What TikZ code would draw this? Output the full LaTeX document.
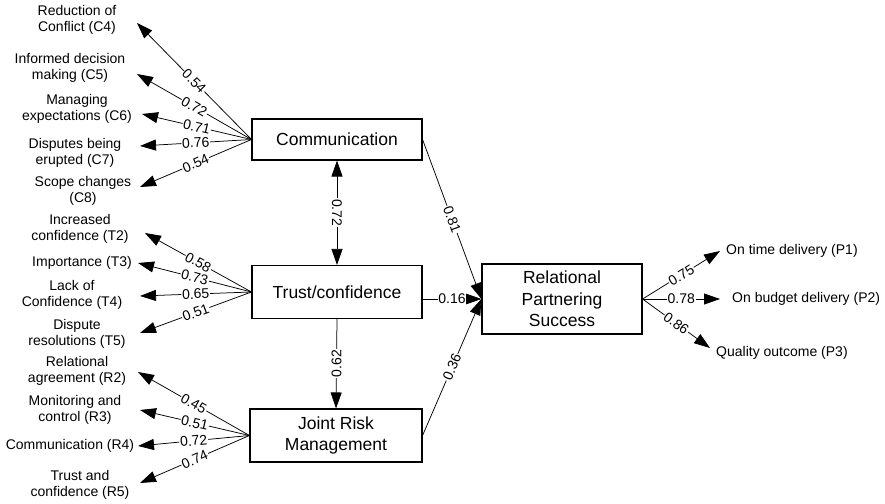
\documentclass[tikz,border=0pt]{standalone}
\usepackage{fontspec}
\setmainfont{Liberation Sans}
\usetikzlibrary{arrows.meta}

\tikzset{
  factorbox/.style={draw, line width=1.1pt, align=center, inner sep=2pt,
    font=\fontsize{17.5}{21.5}\selectfont},
  indicator/.style={align=center, inner sep=2pt, font=\fontsize{14}{16.5}\selectfont},
  weight/.style={fill=white, inner sep=0.8pt, font=\fontsize{14}{16}\selectfont},
  loading/.style={line width=0.75pt, -{Triangle[length=16pt,width=11pt]}},
  biloading/.style={line width=0.75pt, {Triangle[length=16pt,width=11pt]}-{Triangle[length=16pt,width=11pt]}},
}

\begin{document}
\begin{tikzpicture}[x=1pt, y=-1pt]
    % Canvas of the reference
    \useasboundingbox (0,0) rectangle (885,503);

    % Latent constructs
    \node[factorbox, minimum width=170pt, minimum height=41pt] (comm) at (337,139.5) {Communication};
    \node[factorbox, minimum width=170pt, minimum height=53pt] (trust) at (337,292) {Trust/confidence};
    \node[factorbox, minimum width=172pt, minimum height=53pt] (jrm) at (336,435.5) {Joint Risk\\Management};
    \node[factorbox, minimum width=160pt, minimum height=70pt] (rps) at (562,299) {Relational\\Partnering\\Success};

    % Communication indicators
    \node[indicator] (c4) at (77,20) {Reduction of\\Conflict (C4)};
    \node[indicator] (c5) at (70,68) {Informed decision\\making (C5)};
    \node[indicator] (c6) at (77,109) {Managing\\expectations (C6)};
    \node[indicator] (c7) at (75,153) {Disputes being\\erupted (C7)};
    \node[indicator] (c8) at (83,191) {Scope changes\\(C8)};
    \coordinate (c4tip) at (137,23);
    \coordinate (c5tip) at (137,74);
    \coordinate (c6tip) at (142,114);
    \coordinate (c7tip) at (140,146);
    \coordinate (c8tip) at (140,187);
    \draw[loading] (comm.west) -- node[weight, sloped] {0.54} (c4tip);
    \draw[loading] (comm.west) -- node[weight, sloped] {0.72} (c5tip);
    \draw[loading] (comm.west) -- node[weight, sloped] {0.71} (c6tip);
    \draw[loading] (comm.west) -- node[weight, sloped] {0.76} (c7tip);
    \draw[loading] (comm.west) -- node[weight, sloped] {0.54} (c8tip);

    % Trust/confidence indicators
    \node[indicator] (t2) at (80,229) {Increased\\confidence (T2)};
    \node[indicator] (t3) at (82,263) {Importance (T3)};
    \node[indicator] (t4) at (72,295) {Lack of\\Confidence (T4)};
    \node[indicator] (t5) at (77,334) {Dispute\\resolutions (T5)};
    \coordinate (t2tip) at (145,233);
    \coordinate (t3tip) at (138,263);
    \coordinate (t4tip) at (140,296);
    \coordinate (t5tip) at (140,333);
    \draw[loading] (trust.west) -- node[weight, sloped] {0.58} (t2tip);
    \draw[loading] (trust.west) -- node[weight, sloped] {0.73} (t3tip);
    \draw[loading] (trust.west) -- node[weight, sloped] {0.65} (t4tip);
    \draw[loading] (trust.west) -- node[weight, sloped] {0.51} (t5tip);

    % Joint risk management indicators
    \node[indicator] (r2) at (77,371) {Relational\\agreement (R2)};
    \node[indicator] (r3) at (75,410) {Monitoring and\\control (R3)};
    \node[indicator] (r4) at (70,446) {Communication (R4)};
    \node[indicator] (r5) at (80,485) {Trust and\\confidence (R5)};
    \coordinate (r2tip) at (138,372);
    \coordinate (r3tip) at (140,410);
    \coordinate (r4tip) at (138,446);
    \coordinate (r5tip) at (140,483);
    \draw[loading] (jrm.west) -- node[weight, sloped] {0.45} (r2tip);
    \draw[loading] (jrm.west) -- node[weight, sloped] {0.51} (r3tip);
    \draw[loading] (jrm.west) -- node[weight, sloped] {0.72} (r4tip);
    \draw[loading] (jrm.west) -- node[weight, sloped] {0.74} (r5tip);

    % Structural paths
    \draw[biloading] (comm.south) -- node[weight, rotate=-90] {0.72} (trust.north);
    \draw[loading] (trust.south) -- node[weight, rotate=90] {0.62} (jrm.north);
    \draw[loading] (comm.east) -- node[weight, sloped] {0.81} (rps.west);
    \draw[loading] (trust.east |- rps.west) -- node[weight] {0.16} (rps.west);
    \draw[loading] (jrm.east) -- node[weight, sloped] {0.36} (rps.west);

    % Success outcomes
    \node[indicator, anchor=west] (p1) at (724,251) {On time delivery (P1)};
    \node[indicator, anchor=west] (p2) at (730,299) {On budget delivery (P2)};
    \node[indicator, anchor=west] (p3) at (714,353) {Quality outcome (P3)};
    \coordinate (p1tip) at (720,251);
    \coordinate (p2tip) at (720,299);
    \coordinate (p3tip) at (710,348);
    \draw[loading] (rps.east) -- node[weight, sloped] {0.75} (p1tip);
    \draw[loading] (rps.east) -- node[weight, sloped] {0.78} (p2tip);
    \draw[loading] (rps.east) -- node[weight, sloped] {0.86} (p3tip);

\end{tikzpicture}
\end{document}
